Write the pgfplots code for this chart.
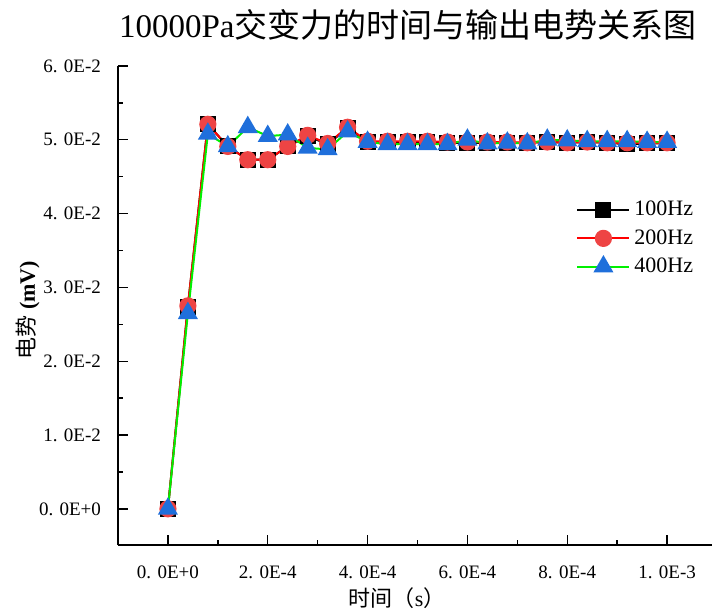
\documentclass[border=0pt]{standalone}
\usepackage{pgfplots}
\pgfplotsset{compat=1.18}
\usepackage{fontspec}
\setmainfont{Liberation Serif}
\newfontfamily\cjk{Noto Sans CJK SC}
\definecolor{rd}{HTML}{EE4444}
\definecolor{bl}{HTML}{1F6FDB}
\definecolor{gr}{HTML}{00F000}
\begin{document}
\begin{tikzpicture}
\begin{axis}[
  scale only axis, width=297pt, height=239.5pt,
  xmin=-1e-4, xmax=1.09e-3, ymin=-0.0049, ymax=0.06,
  clip=false,
  axis x line*=bottom, axis y line*=left,
  axis line style={line width=0.7pt,-},
  tick align=inside, major tick length=5pt, minor tick length=2.5pt,
  every tick/.style={line width=0.7pt, black},
  scaled ticks=false,
  xtick={0,2e-4,4e-4,6e-4,8e-4,1e-3},
  xticklabels={0. 0E+0,2. 0E-4,4. 0E-4,6. 0E-4,8. 0E-4,1. 0E-3},
  minor xtick={1e-4,3e-4,5e-4,7e-4,9e-4},
  ytick={0,0.01,0.02,0.03,0.04,0.05,0.06},
  yticklabels={0. 0E+0,1. 0E-2,2. 0E-2,3. 0E-2,4. 0E-2,5. 0E-2,6. 0E-2},
  minor ytick={0.005,0.015,0.025,0.035,0.045,0.055},
  ticklabel style={font=\fontsize{9.5}{11}\selectfont},
  xticklabel style={yshift=-7pt},
  yticklabel style={xshift=-5pt},
  legend style={at={(rel axis cs:0.761,0.735)}, anchor=north west, draw=none, fill=none,
    font=\fontsize{11}{13}\selectfont, row sep=1.3pt},
  legend cell align=left,
  legend image code/.code={\draw[mark repeat=2,mark phase=2] plot coordinates {(0pt,0pt)(13pt,0pt)(26pt,0pt)};},
]
\addplot[black, line width=1pt, mark=square*, mark size=3.5pt, mark options={fill=black, draw=black}] table {
x y
0 0
4e-5 0.0274
8e-5 0.0521
1.2e-4 0.0491
1.6e-4 0.0473
2.0e-4 0.0473
2.4e-4 0.0491
2.8e-4 0.0505
3.2e-4 0.0494
3.6e-4 0.0516
4.0e-4 0.0497
4.4e-4 0.0497
4.8e-4 0.0497
5.2e-4 0.0497
5.6e-4 0.0496
6.0e-4 0.0496
6.4e-4 0.0496
6.8e-4 0.0496
7.2e-4 0.0496
7.6e-4 0.0497
8.0e-4 0.0496
8.4e-4 0.0497
8.8e-4 0.0496
9.2e-4 0.0494
9.6e-4 0.0495
1.0e-3 0.0495
};
\addlegendentry{100Hz}
\addplot[red, line width=1pt, mark=*, mark size=3.8pt, mark options={fill=rd, draw=rd}] table {
x y
0 0
4e-5 0.0275
8e-5 0.0521
1.2e-4 0.0491
1.6e-4 0.0473
2.0e-4 0.0473
2.4e-4 0.0491
2.8e-4 0.0506
3.2e-4 0.0495
3.6e-4 0.0517
4.0e-4 0.0498
4.4e-4 0.0498
4.8e-4 0.0498
5.2e-4 0.0498
5.6e-4 0.0497
6.0e-4 0.0497
6.4e-4 0.0497
6.8e-4 0.0497
7.2e-4 0.0496
7.6e-4 0.0497
8.0e-4 0.0496
8.4e-4 0.0497
8.8e-4 0.0496
9.2e-4 0.0496
9.6e-4 0.0496
1.0e-3 0.0496
};
\addlegendentry{200Hz}
\addplot[gr, line width=1pt, mark=triangle*, mark size=4.8pt, mark options={fill=bl, draw=bl}] table {
x y
0 0
4e-5 0.0265
8e-5 0.0508
1.2e-4 0.0491
1.6e-4 0.0517
2.0e-4 0.0505
2.4e-4 0.0507
2.8e-4 0.0489
3.2e-4 0.0487
3.6e-4 0.0511
4.0e-4 0.0497
4.4e-4 0.0494
4.8e-4 0.0494
5.2e-4 0.0494
5.6e-4 0.0494
6.0e-4 0.0500
6.4e-4 0.0495
6.8e-4 0.0496
7.2e-4 0.0495
7.6e-4 0.0500
8.0e-4 0.0499
8.4e-4 0.0498
8.8e-4 0.0498
9.2e-4 0.0498
9.6e-4 0.0497
1.0e-3 0.0497
};
\addlegendentry{400Hz}
\node[font=\fontsize{16.5}{20}\selectfont, anchor=base] at ([yshift=14pt]rel axis cs:0.488,1) {10000Pa{\cjk 交变力的时间与输出电势关系图}};
\node[font=\fontsize{11}{13}\selectfont, rotate=90, anchor=center] at ([xshift=-45pt]rel axis cs:0,0.49) {{\cjk 电势} \textbf{(mV)}};
\node[font=\fontsize{11}{13}\selectfont, anchor=center] at ([yshift=-26.5pt]rel axis cs:0.47,0) {{\cjk 时间（}s{\cjk ）}};
\coordinate (bl) at (rel axis cs:0,0);
\coordinate (tr) at (rel axis cs:1,1);
\end{axis}
\pgfresetboundingbox
\path ([shift={(-59pt,-33pt)}]bl) rectangle ([shift={(0pt,33pt)}]tr);
\end{tikzpicture}
\end{document}
